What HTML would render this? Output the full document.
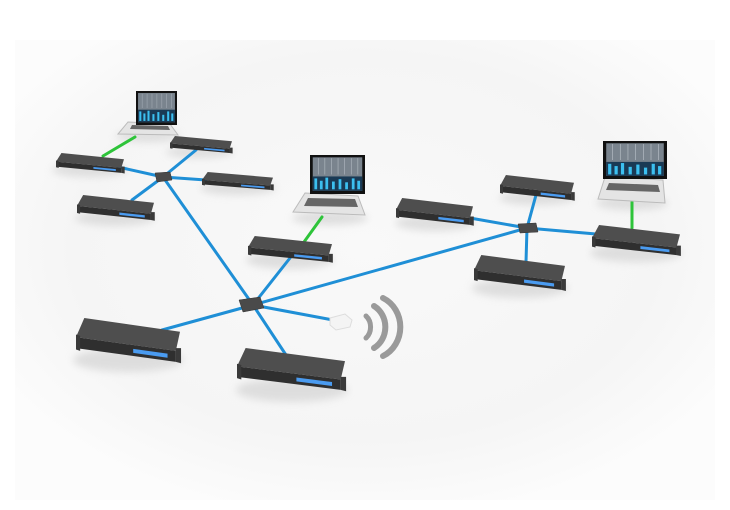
<!DOCTYPE html>
<html><head><meta charset="utf-8"><style>
html,body{margin:0;padding:0;background:#fff;width:730px;height:510px;overflow:hidden}
</style></head><body>
<svg width="730" height="510" viewBox="0 0 730 510" xmlns="http://www.w3.org/2000/svg">
<defs>
<radialGradient id="bg" cx="50%" cy="45%" r="60%">
<stop offset="0" stop-color="#f9f9f9"/><stop offset="0.7" stop-color="#f5f5f5"/><stop offset="1" stop-color="#fcfcfc"/>
</radialGradient>
<filter id="blur" x="-30%" y="-30%" width="160%" height="160%"><feGaussianBlur stdDeviation="4"/></filter>
<g id="dev">
<polygon points="8,0 100,10 96,24 0,14" fill="#4e4e4e"/>
<polygon points="0,14 96,24 96,32 0,22" fill="#2f2f2f"/>
<polygon points="0,12 4,13 4,24 0,23" fill="#3a3a3a"/>
<polygon points="96,22 101,22 101,33 96,32" fill="#3a3a3a"/>
<polygon points="55,22.5 88,26 88,29 55,25.5" fill="#4a9bf0"/>
</g>
<g id="scr">
<rect x="0" y="0" width="100" height="100" fill="#111"/>
<rect x="5" y="6" width="90" height="86" fill="#7a848e"/>
<g stroke="#b8c0c8" stroke-width="1"><line x1="15" y1="8" x2="15" y2="50"/><line x1="27" y1="8" x2="27" y2="50"/><line x1="39" y1="8" x2="39" y2="50"/><line x1="51" y1="8" x2="51" y2="50"/><line x1="63" y1="8" x2="63" y2="50"/><line x1="75" y1="8" x2="75" y2="50"/><line x1="87" y1="8" x2="87" y2="50"/></g>
<rect x="5" y="55" width="90" height="37" fill="#1a3a55"/>
<g fill="#3cc0f0"><rect x="8" y="60" width="5" height="28"/><rect x="18" y="66" width="5" height="22"/><rect x="28" y="58" width="5" height="30"/><rect x="40" y="68" width="5" height="20"/><rect x="52" y="62" width="5" height="26"/><rect x="64" y="70" width="5" height="18"/><rect x="76" y="60" width="5" height="28"/><rect x="86" y="66" width="5" height="22"/></g>
</g>
</defs>
<rect x="15" y="40" width="700" height="460" fill="url(#bg)"/>
<g fill="#d8d8d8" filter="url(#blur)" opacity="0.8">
<ellipse cx="90" cy="170" rx="38" ry="7"/><ellipse cx="200" cy="152" rx="34" ry="6"/><ellipse cx="238" cy="188" rx="38" ry="7"/>
<ellipse cx="115" cy="218" rx="40" ry="8"/><ellipse cx="290" cy="260" rx="44" ry="9"/><ellipse cx="128" cy="360" rx="55" ry="12"/>
<ellipse cx="292" cy="390" rx="56" ry="12"/><ellipse cx="435" cy="223" rx="40" ry="8"/><ellipse cx="537" cy="198" rx="38" ry="7"/>
<ellipse cx="636" cy="253" rx="46" ry="9"/><ellipse cx="520" cy="288" rx="48" ry="10"/>
<ellipse cx="148" cy="136" rx="32" ry="6"/><ellipse cx="330" cy="218" rx="38" ry="7"/><ellipse cx="632" cy="203" rx="36" ry="7"/>
</g>
<g stroke="#1f8fd6" stroke-width="3" fill="none" stroke-linecap="round">
<line x1="163" y1="177" x2="118" y2="167"/><line x1="163" y1="177" x2="196" y2="150"/>
<line x1="163" y1="177" x2="206" y2="180"/><line x1="163" y1="177" x2="132" y2="200"/>
<line x1="163" y1="177" x2="253" y2="305"/><line x1="253" y1="305" x2="290" y2="258"/>
<line x1="253" y1="305" x2="527" y2="228"/><line x1="253" y1="305" x2="162" y2="330"/>
<line x1="253" y1="305" x2="286" y2="355"/><line x1="253" y1="305" x2="333" y2="320"/>
<line x1="527" y1="228" x2="470" y2="218"/><line x1="527" y1="228" x2="536" y2="195"/>
<line x1="527" y1="228" x2="596" y2="234"/><line x1="527" y1="228" x2="526" y2="262"/>
</g>
<g stroke="#2ec43a" stroke-width="3" stroke-linecap="round">
<line x1="135" y1="137" x2="103" y2="156"/><line x1="322" y1="217" x2="304" y2="242"/><line x1="632" y1="202" x2="632" y2="228"/>
</g>
<use href="#dev" transform="translate(56,153) scale(0.68,0.62)"/>
<use href="#dev" transform="translate(170,136) scale(0.62,0.53)"/>
<use href="#dev" transform="translate(202,172) scale(0.71,0.56)"/>
<use href="#dev" transform="translate(77,195) scale(0.77,0.78)"/>
<use href="#dev" transform="translate(248,236) scale(0.84,0.81)"/>
<use href="#dev" transform="translate(76,318) scale(1.04,1.37)"/>
<use href="#dev" transform="translate(237,348) scale(1.08,1.31)"/>
<use href="#dev" transform="translate(396,198) scale(0.77,0.84)"/>
<use href="#dev" transform="translate(500,175) scale(0.74,0.78)"/>
<use href="#dev" transform="translate(592,225) scale(0.88,0.94)"/>
<use href="#dev" transform="translate(474,255) scale(0.91,1.09)"/>
<g fill="#4a4a4a" stroke="#333" stroke-width="0.5">
<polygon points="155,173 170,172 172,180 157,182"/>
<polygon points="239,300 260,297 264,308 243,312"/>
<polygon points="518,224 536,223 538,232 520,233"/>
</g>
<polygon points="330,318 345,314 352,320 350,327 336,330 330,325" fill="#f4f4f4" stroke="#ddd"/>
<g stroke="#9a9a9a" fill="none" stroke-linecap="round">
<path d="M366,316 A12,14 0 0 1 366,338" stroke-width="5"/>
<path d="M374,306 A22,24 0 0 1 374,348" stroke-width="6"/>
<path d="M383,298 A30,32 0 0 1 383,356" stroke-width="6"/>
</g>
<polygon points="128,122 170,124 178,135 118,134" fill="#e4e4e4" stroke="#bbb"/>
<polygon points="132,125 168,126 170,130 130,129" fill="#666"/>
<use href="#scr" transform="translate(136,91) scale(0.41,0.34)"/>
<polygon points="305,193 358,196 365,215 293,212" fill="#e4e4e4" stroke="#bbb"/>
<polygon points="308,198 355,199 358,207 304,206" fill="#666"/>
<use href="#scr" transform="translate(310,155) scale(0.55,0.39)"/>
<polygon points="605,177 663,180 665,203 598,199" fill="#e4e4e4" stroke="#bbb"/>
<polygon points="609,183 658,185 660,192 606,190" fill="#666"/>
<use href="#scr" transform="translate(603,141) scale(0.64,0.38)"/>
</svg>
</body></html>
